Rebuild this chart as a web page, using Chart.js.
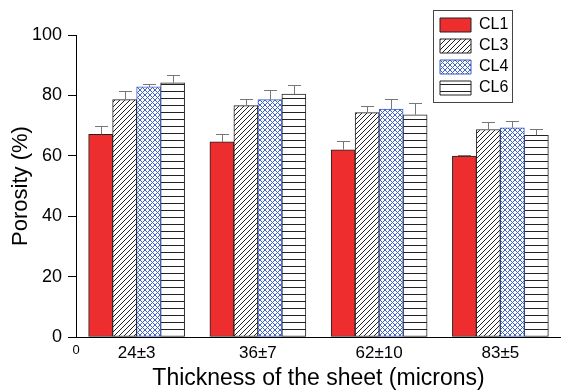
<!DOCTYPE html>
<html>
<head>
<meta charset="utf-8">
<script src="https://cdn.jsdelivr.net/npm/chart.js@4.4.0/dist/chart.umd.min.js"></script>
<style>
    body { margin: 0; background: #fff; }
    #porosityChart { display: block; }
</style>
</head>
<body>
<canvas id="porosityChart" width="561" height="392"></canvas>
<script>
// sheet thickness groups (x axis)
const categories = ["24\u00b13", "36\u00b17", "62\u00b110", "83\u00b15"];
const seriesNames = ["CL1", "CL3", "CL4", "CL6"];

// porosity (%)
const cl1 = [67.1, 64.6, 62.0, 59.9];
const cl3 = [78.6, 76.6, 74.3, 68.7];
const cl4 = [82.8, 78.6, 75.5, 69.3];
const cl6 = [84.2, 80.4, 73.6, 66.8];

// upper error bars
const cl1Err = [2.8, 2.7, 2.8, 0.4];
const cl3Err = [2.9, 2.2, 2.3, 2.5];
const cl4Err = [0.9, 3.2, 3.4, 2.2];
const cl6Err = [2.7, 3.2, 3.9, 2.0];

const yTicks = [0, 20, 40, 60, 80, 100];

Chart.defaults.font.family = "'Liberation Sans', Arial, sans-serif";
Chart.defaults.color = "#000";

// fill patterns for the bars
function makePattern(kind, color) {
    const size = kind === "lines" ? 7 : 5;
    const tile = document.createElement("canvas");
    tile.width = size;
    tile.height = size;
    const c = tile.getContext("2d");
    c.fillStyle = "#fff";
    c.fillRect(0, 0, size, size);
    c.strokeStyle = color;
    c.lineWidth = 1;
    c.beginPath();
    if (kind === "lines") {
        c.moveTo(0, 0.5);
        c.lineTo(size, 0.5);
    } else {
        c.moveTo(0, size); c.lineTo(size, 0);
        c.moveTo(-1, 1); c.lineTo(1, -1);
        c.moveTo(size - 1, size + 1); c.lineTo(size + 1, size - 1);
        if (kind === "cross") {
            c.moveTo(0, 0); c.lineTo(size, size);
            c.moveTo(-1, size - 1); c.lineTo(1, size + 1);
            c.moveTo(size - 1, -1); c.lineTo(size + 1, 1);
        }
    }
    c.stroke();
    return c.createPattern(tile, "repeat");
}

const seriesValues = [cl1, cl3, cl4, cl6];
const seriesErrors = [cl1Err, cl3Err, cl4Err, cl6Err];
const fills = ["#ee2e2e", makePattern("diag", "#222"), makePattern("cross", "#3f63c8"), makePattern("lines", "#222")];
const borders = ["#222", "#222", "#3b5cc0", "#222"];

const datasets = seriesNames.map((name, s) => ({
    label: name,
    data: seriesValues[s].map((v, i) => ({ x: i + 0.5, y: v })),
    errors: seriesErrors[s],
    backgroundColor: fills[s],
    borderColor: borders[s],
    borderWidth: 1,
    borderSkipped: false,
    barThickness: 24,
}));

// upward error bars with a cap
const errorBars = {
    id: "errorBars",
    afterDatasetsDraw(chart) {
        const ctx = chart.ctx;
        const yScale = chart.scales.y;
        ctx.save();
        ctx.strokeStyle = "#777";
        ctx.lineWidth = 1;
        chart.data.datasets.forEach((ds, d) => {
            chart.getDatasetMeta(d).data.forEach((bar, i) => {
                const top = Math.round(yScale.getPixelForValue(ds.data[i].y + ds.errors[i])) + 0.5;
                const x = Math.round(bar.x) + 0.5;
                ctx.beginPath();
                ctx.moveTo(x, bar.y);
                ctx.lineTo(x, top);
                ctx.moveTo(x - 6.5, top);
                ctx.lineTo(x + 6.5, top);
                ctx.stroke();
            });
        });
        ctx.restore();
    }
};

// move the legend to the top right corner and frame it
const legendBox = {
    id: "legendBox",
    afterLayout(chart) {
        const lg = chart.legend;
        lg.left = 435;
        lg.top = 12;
        lg.right = lg.left + 80;
        lg.bottom = lg.top + 110;
    },
    afterDraw(chart) {
        const lg = chart.legend;
        const ctx = chart.ctx;
        ctx.save();
        ctx.strokeStyle = "#444";
        ctx.lineWidth = 1;
        ctx.strokeRect(lg.left - 1.5, lg.top - 1.5, 79, 92);
        ctx.restore();
    }
};

new Chart(document.getElementById("porosityChart"), {
    type: "bar",
    data: { datasets: datasets },
    options: {
        responsive: false,
        animation: false,
        devicePixelRatio: 1,
        layout: { padding: { top: 35, right: 0, bottom: 0, left: 0 } },
        plugins: {
            legend: {
                position: "chartArea",
                align: "start",
                labels: {
                    boxWidth: 31,
                    boxHeight: 14,
                    padding: 5,
                    color: "#000",
                    font: { size: 16 },
                },
            },
            tooltip: { enabled: false },
        },
        scales: {
            x: {
                type: "linear",
                min: 0,
                max: 4,
                offset: false,
                afterBuildTicks: (scale) => {
                    scale.ticks = [0].concat(categories.map((c, i) => i + 0.5)).map((v) => ({ value: v }));
                },
                afterFit: (scale) => { scale.height = 55; },
                grid: { display: false, drawTicks: false, offset: false },
                border: { display: true, color: "#000", width: 1 },
                ticks: {
                    autoSkip: false,
                    maxRotation: 0,
                    padding: 6,
                    color: "#000",
                    font: (ctx) => ({ size: ctx.index === 0 ? 13 : 17 }),
                    callback: (v) => (v === 0 ? "0" : categories[Math.round(v - 0.5)]),
                },
                title: {
                    display: true,
                    text: "Thickness of the sheet (microns)",
                    color: "#000",
                    font: { size: 23 },
                    padding: { top: 0, bottom: 0 },
                },
            },
            y: {
                min: 0,
                max: 100,
                afterBuildTicks: (scale) => {
                    scale.ticks = yTicks.map((v) => ({ value: v }));
                },
                afterFit: (scale) => { scale.width = 76; },
                grid: { display: true, drawOnChartArea: false, drawTicks: true, tickLength: 8, color: "#000" },
                border: { display: true, color: "#000", width: 1 },
                ticks: { padding: 6, color: "#000", font: { size: 18 } },
                title: {
                    display: true,
                    text: "Porosity (%)",
                    color: "#000",
                    font: { size: 22 },
                    padding: { top: 8, bottom: 0 },
                },
            },
        },
    },
    plugins: [errorBars, legendBox],
});
</script>
</body>
</html>
